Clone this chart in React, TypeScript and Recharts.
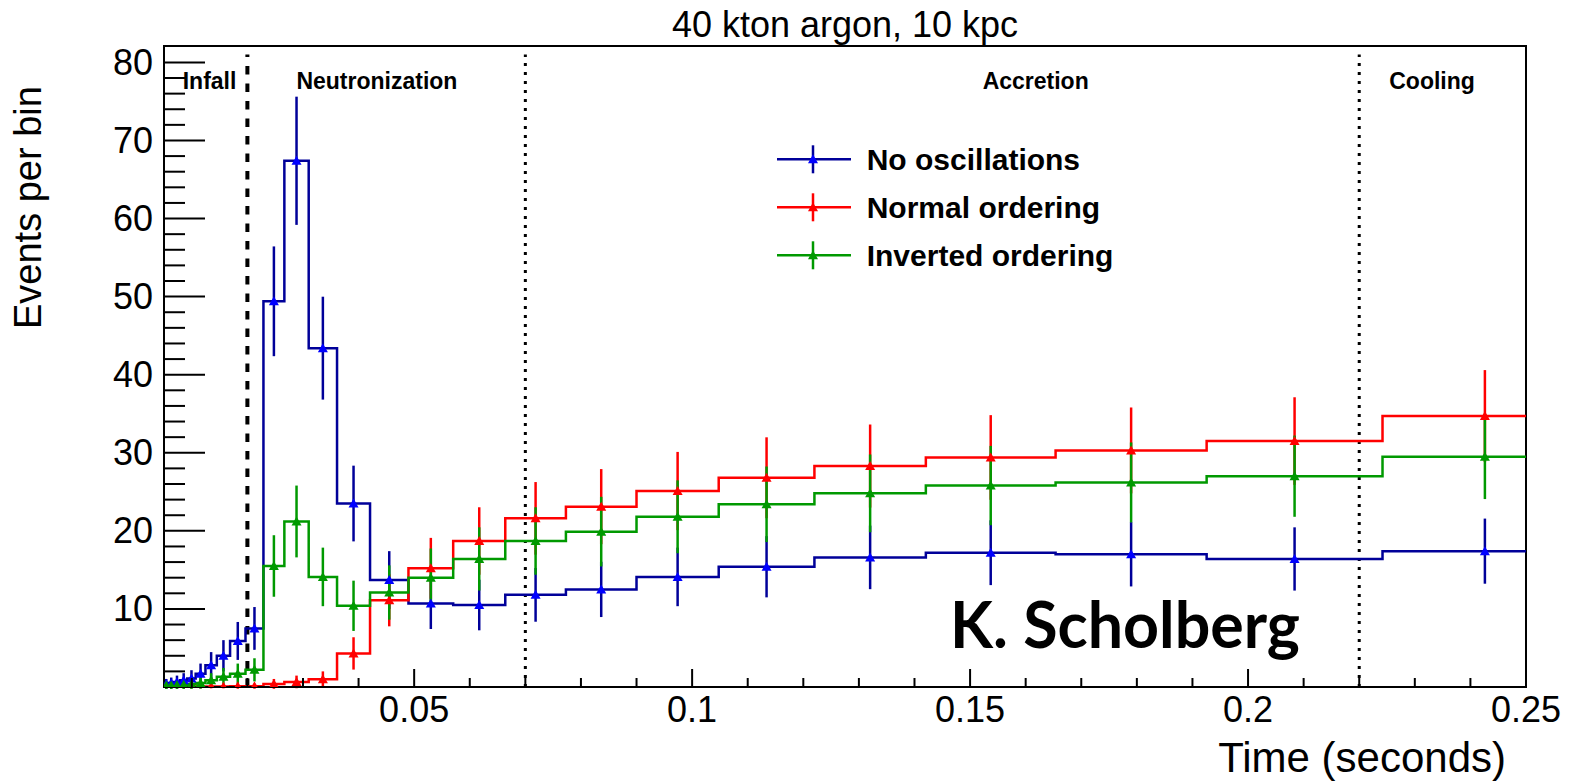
import React from 'react';
import {
  ComposedChart,
  Line,
  Scatter,
  XAxis,
  YAxis,
  ErrorBar,
  ReferenceLine,
  ReferenceArea,
  ReferenceDot,
} from 'recharts';

// Variable-width (logarithmic) time bins, seconds
const binEdges = [
  0.005, 0.0058215, 0.006778, 0.0078917, 0.0091884, 0.010698, 0.012456, 0.014502,
  0.016885, 0.019659, 0.022889, 0.02665, 0.031029, 0.036127, 0.042063, 0.048974,
  0.05702, 0.066389, 0.077297, 0.089997, 0.104783, 0.121999, 0.142043, 0.165381,
  0.192553, 0.224189, 0.261023,
];

const noOsc = [
  0.4, 0.5, 0.65, 0.85, 1.1, 1.7, 2.8, 4.0, 5.9, 7.5, 49.4, 67.4, 43.4, 23.5, 13.7, 10.7,
  10.5, 11.8, 12.5, 14.1, 15.4, 16.6, 17.2, 17.0, 16.4, 17.4,
];
const noOscErr = [
  0.63, 0.71, 0.81, 0.92, 1.05, 1.3, 1.67, 2.0, 2.43, 2.74, 7.03, 8.21, 6.59, 4.85, 3.7, 3.27,
  3.24, 3.44, 3.54, 3.75, 3.92, 4.07, 4.15, 4.12, 4.05, 4.17,
];

const normal = [
  0.05, 0.05, 0.05, 0.05, 0.05, 0.05, 0.05, 0.05, 0.1, 0.1, 0.4, 0.65, 1.0, 4.3, 11.1, 15.2,
  18.7, 21.6, 23.1, 25.1, 26.8, 28.3, 29.4, 30.3, 31.5, 34.7,
];
const normalErr = [
  0.22, 0.22, 0.22, 0.22, 0.22, 0.22, 0.22, 0.22, 0.32, 0.32, 0.63, 0.81, 1.0, 2.07, 3.33, 3.9,
  4.32, 4.65, 4.81, 5.01, 5.18, 5.32, 5.42, 5.5, 5.61, 5.89,
];

const inverted = [
  0.2, 0.2, 0.25, 0.3, 0.35, 0.5, 0.85, 1.3, 1.7, 2.2, 15.5, 21.2, 14.1, 10.4, 12.1, 14.0,
  16.4, 18.7, 19.9, 21.8, 23.4, 24.8, 25.8, 26.2, 27.0, 29.5,
];
const invertedErr = [
  0.45, 0.45, 0.5, 0.55, 0.59, 0.71, 0.92, 1.14, 1.3, 1.48, 3.94, 4.6, 3.75, 3.22, 3.48, 3.74,
  4.05, 4.32, 4.46, 4.67, 4.84, 4.98, 5.08, 5.12, 5.2, 5.43,
];

const seriesNames = ['No oscillations', 'Normal ordering', 'Inverted ordering'];
const lineColors = ['#000099', '#ff0000', '#009900'];
const markerColors = ['#0000ff', '#ff0000', '#009900'];

const xMajorTicks = [0.05, 0.1, 0.15, 0.2, 0.25];
const xMajorLabels = ['0.05', '0.1', '0.15', '0.2', '0.25'];
const xMinorTicks = [
  0.01, 0.02, 0.03, 0.04, 0.06, 0.07, 0.08, 0.09, 0.11, 0.12, 0.13, 0.14, 0.16, 0.17, 0.18,
  0.19, 0.21, 0.22, 0.23, 0.24,
];
const yMajorTicks = [10, 20, 30, 40, 50, 60, 70, 80];
const yMinorTicks = [
  2, 4, 6, 8, 12, 14, 16, 18, 22, 24, 26, 28, 32, 34, 36, 38, 42, 44, 46, 48, 52, 54, 56, 58,
  62, 64, 66, 68, 72, 74, 76, 78,
];

const phaseBoundaries = [0.02, 0.07, 0.22];
const phaseLabels = ['Infall', 'Neutronization', 'Accretion', 'Cooling'];
const phaseLabelX = [0.0132, 0.0433, 0.1618, 0.2331];
const phaseLabelY = 76.65;

const X_MIN = 0.005;
const X_MAX = 0.25;
const Y_MAX = 82.1;

const FONT = '"Liberation Sans", Arial, Helvetica, sans-serif';

const stepData = binEdges.map((e, i) => {
  const k = Math.min(i, noOsc.length - 1);
  return { x: e, noOsc: noOsc[k], normal: normal[k], inverted: inverted[k] };
});

const makePoints = (vals: number[], errs: number[]) =>
  vals.map((v, i) => ({ x: (binEdges[i] + binEdges[i + 1]) / 2, y: v, err: errs[i] }));

const pointSets = [
  makePoints(noOsc, noOscErr),
  makePoints(normal, normalErr),
  makePoints(inverted, invertedErr),
];
const stepKeys = ['noOsc', 'normal', 'inverted'];

const triangle = (color: string) => (props: any) => {
  const { cx, cy } = props;
  if (cx == null || cy == null) return <g />;
  return (
    <polygon
      points={`${cx},${cy - 5} ${cx - 5},${cy + 4} ${cx + 5},${cy + 4}`}
      fill={color}
      stroke="none"
    />
  );
};

const XTick = (props: any) => {
  const { x, y, payload } = props;
  const idx = xMajorTicks.findIndex((t) => Math.abs(t - payload.value) < 1e-9);
  const major = idx >= 0;
  return (
    <g>
      <line x1={x} y1={y} x2={x} y2={y - (major ? 18 : 9)} stroke="#000" strokeWidth={2} />
      {major && (
        <text x={x} y={y + 35} textAnchor="middle" fontSize={36} fontFamily={FONT} fill="#000">
          {xMajorLabels[idx]}
        </text>
      )}
    </g>
  );
};

const YTick = (props: any) => {
  const { x, y, payload } = props;
  const idx = yMajorTicks.findIndex((t) => Math.abs(t - payload.value) < 1e-9);
  const major = idx >= 0;
  return (
    <g>
      <line x1={x} y1={y} x2={x + (major ? 41 : 21)} y2={y} stroke="#000" strokeWidth={2} />
      {major && (
        <text x={x - 11} y={y + 12.5} textAnchor="end" fontSize={36} fontFamily={FONT} fill="#000">
          {String(yMajorTicks[idx])}
        </text>
      )}
    </g>
  );
};

const allXTicks = [...xMinorTicks, ...xMajorTicks].sort((a, b) => a - b);
const allYTicks = [...yMinorTicks, ...yMajorTicks].sort((a, b) => a - b);

export default function App() {
  return (
    <div
      style={{
        position: 'absolute',
        left: 0,
        top: 0,
        width: 1572,
        height: 782,
        background: '#fff',
        fontFamily: FONT,
      }}
    >
      <ComposedChart
        width={1572}
        height={782}
        data={stepData}
        margin={{ top: 46, right: 46, bottom: 55, left: 0 }}
      >
        <XAxis
          type="number"
          dataKey="x"
          domain={[X_MIN, X_MAX]}
          allowDataOverflow
          ticks={allXTicks}
          interval={0}
          tick={XTick}
          tickLine={false}
          tickSize={0}
          tickMargin={0}
          axisLine={{ stroke: '#000', strokeWidth: 2 }}
          height={40}
        />
        <YAxis
          type="number"
          dataKey="y"
          domain={[0, Y_MAX]}
          allowDataOverflow
          ticks={allYTicks}
          interval={0}
          tick={YTick}
          tickLine={false}
          tickSize={0}
          tickMargin={0}
          axisLine={{ stroke: '#000', strokeWidth: 2 }}
          width={164}
        />
        <ReferenceArea
          x1={X_MIN}
          x2={X_MAX}
          y1={0}
          y2={Y_MAX}
          fill="none"
          fillOpacity={0}
          stroke="#000"
          strokeWidth={2}
        />
        <ReferenceLine
          segment={[
            { x: phaseBoundaries[0], y: 0 },
            { x: phaseBoundaries[0], y: 81 },
          ]}
          stroke="#000"
          strokeWidth={4}
          strokeDasharray="8.5 9"
        />
        <ReferenceLine
          segment={[
            { x: phaseBoundaries[1], y: 0 },
            { x: phaseBoundaries[1], y: 81 },
          ]}
          stroke="#000"
          strokeWidth={3}
          strokeDasharray="3 6"
        />
        <ReferenceLine
          segment={[
            { x: phaseBoundaries[2], y: 0 },
            { x: phaseBoundaries[2], y: 81 },
          ]}
          stroke="#000"
          strokeWidth={3}
          strokeDasharray="3 6"
        />
        {phaseLabels.map((lab, i) => (
          <ReferenceDot
            key={lab}
            x={phaseLabelX[i]}
            y={phaseLabelY}
            r={0}
            shape={(p: any) => (
              <text
                x={p.cx}
                y={p.cy}
                textAnchor="middle"
                fontSize={23}
                fontWeight="bold"
                fontFamily={FONT}
                fill="#000"
              >
                {lab}
              </text>
            )}
          />
        ))}
        {[0, 1, 2].flatMap((s) => [
          <Line
            key={`line-${s}`}
            type="stepAfter"
            dataKey={stepKeys[s]}
            stroke={lineColors[s]}
            strokeWidth={2.5}
            dot={false}
            activeDot={false}
            isAnimationActive={false}
          />,
          <Scatter
            key={`pts-${s}`}
            data={pointSets[s]}
            dataKey="y"
            shape={triangle(markerColors[s])}
            isAnimationActive={false}
          >
            <ErrorBar
              dataKey="err"
              direction="y"
              width={0}
              stroke={lineColors[s]}
              strokeWidth={2.5}
              isAnimationActive={false}
            />
          </Scatter>,
        ])}
      </ComposedChart>

      <svg
        width={1572}
        height={782}
        style={{ position: 'absolute', left: 0, top: 0, pointerEvents: 'none' }}
      >
        <text x={845} y={37} textAnchor="middle" fontSize={36} fontFamily={FONT} fill="#000">
          40 kton argon, 10 kpc
        </text>
        <text x={1506} y={772} textAnchor="end" fontSize={42} fontFamily={FONT} fill="#000">
          Time (seconds)
        </text>
        <text
          transform="rotate(-90)"
          x={-329}
          y={41}
          textAnchor="start"
          fontSize={38}
          fontFamily={FONT}
          fill="#000"
        >
          Events per bin
        </text>
        {seriesNames.map((name, i) => {
          const cy = 159.3 + i * 48;
          return (
            <g key={name}>
              <line x1={777} y1={cy} x2={851} y2={cy} stroke={lineColors[i]} strokeWidth={2.5} />
              <line x1={813} y1={cy - 14} x2={813} y2={cy + 14} stroke={lineColors[i]} strokeWidth={2.5} />
              <polygon
                points={`813,${cy - 5} 808,${cy + 4} 818,${cy + 4}`}
                fill={markerColors[i]}
              />
              <text
                x={866.7}
                y={cy + 10.7}
                fontSize={30}
                fontWeight="bold"
                fontFamily={FONT}
                fill="#000"
              >
                {name}
              </text>
            </g>
          );
        })}
        <text
          x={950}
          y={648}
          fontSize={65}
          fontWeight={700}
          fontFamily="Lato, 'Open Sans', sans-serif"
          textLength={350}
          lengthAdjust="spacingAndGlyphs"
          fill="#000"
        >
          K. Scholberg
        </text>
      </svg>
    </div>
  );
}
